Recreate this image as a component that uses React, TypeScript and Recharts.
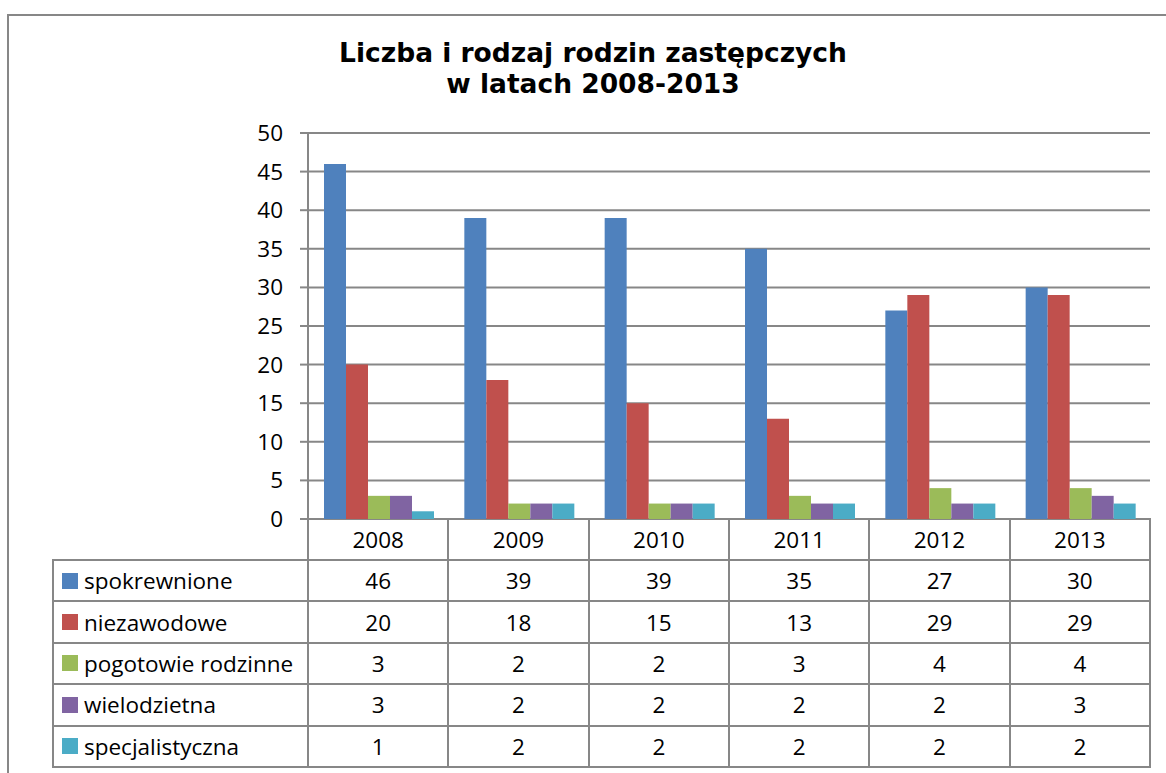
import { BarChart, Bar, XAxis, YAxis, CartesianGrid } from 'recharts';

const years = ['2008', '2009', '2010', '2011', '2012', '2013'];
const spokrewnione = [46, 39, 39, 35, 27, 30];
const niezawodowe = [20, 18, 15, 13, 29, 29];
const pogotowie = [3, 2, 2, 3, 4, 4];
const wielodzietna = [3, 2, 2, 2, 2, 3];
const specjalistyczna = [1, 2, 2, 2, 2, 2];
const yTicks = [0, 5, 10, 15, 20, 25, 30, 35, 40, 45, 50];

const series = [
  { key: 's1', name: 'spokrewnione', values: spokrewnione, color: '#4F81BD' },
  { key: 's2', name: 'niezawodowe', values: niezawodowe, color: '#C0504D' },
  { key: 's3', name: 'pogotowie rodzinne', values: pogotowie, color: '#9BBB59' },
  { key: 's4', name: 'wielodzietna', values: wielodzietna, color: '#8064A2' },
  { key: 's5', name: 'specjalistyczna', values: specjalistyczna, color: '#4BACC6' },
];

const data = years.map((year, i) => {
  const row: Record<string, string | number> = { year };
  series.forEach((s) => (row[s.key] = s.values[i]));
  return row;
});

// page geometry
const W = 1166;
const H = 773;
const PLOT_L = 308;
const PLOT_R = 1150;
const PLOT_T = 133;
const PLOT_B = 519;
const TABLE_L = 53;
const HEAD_B = 560;
const ROW_H = 41.4;
const GREY = '#878787';
const FONT = '"Open Sans", Lato, sans-serif';
const FONT_SIZE = 22.5;

const colW = (PLOT_R - PLOT_L) / years.length;

function Line({ x, y, w, h }: { x: number; y: number; w: number; h: number }) {
  return <div style={{ position: 'absolute', left: x, top: y, width: w, height: h, background: GREY }} />;
}

function DataTable() {
  const bottom = HEAD_B + ROW_H * series.length;
  const lines = [];
  for (let r = 0; r <= series.length; r++) {
    const y = HEAD_B + r * ROW_H;
    lines.push(<Line key={'h' + r} x={TABLE_L - 1} y={y - 1} w={PLOT_R - TABLE_L + 2} h={2} />);
  }
  lines.push(<Line key="vl" x={TABLE_L - 1} y={HEAD_B - 1} w={2} h={bottom - HEAD_B + 2} />);
  for (let c = 0; c <= years.length; c++) {
    const x = PLOT_L + c * colW;
    lines.push(<Line key={'v' + c} x={x - 1} y={PLOT_B - 1} w={2} h={bottom - PLOT_B + 2} />);
  }
  const cell = (x: number, y: number, w: number, h: number, content: any, key: string, left = false) => (
    <div
      key={key}
      style={{
        position: 'absolute',
        left: x,
        top: y,
        width: w,
        height: h,
        display: 'flex',
        alignItems: 'center',
        justifyContent: left ? 'flex-start' : 'center',
        fontFamily: FONT,
        fontSize: FONT_SIZE,
        color: '#000',
        whiteSpace: 'nowrap',
      }}
    >
      {content}
    </div>
  );
  const cells = [];
  years.forEach((y, c) => cells.push(cell(PLOT_L + c * colW, PLOT_B, colW, HEAD_B - PLOT_B, y, 'y' + c)));
  series.forEach((s, r) => {
    const top = HEAD_B + r * ROW_H;
    cells.push(
      cell(
        62,
        top,
        PLOT_L - 62,
        ROW_H,
        <>
          <span style={{ display: 'inline-block', width: 16, height: 16, background: s.color, marginRight: 6 }} />
          {s.name}
        </>,
        'l' + r,
        true
      )
    );
    s.values.forEach((v, c) => cells.push(cell(PLOT_L + c * colW, top, colW, ROW_H, v, `c${r}-${c}`)));
  });
  return (
    <>
      {lines}
      {cells}
    </>
  );
}

export default function App() {
  return (
    <div style={{ position: 'fixed', left: 0, top: 0, width: W, height: H, overflow: 'hidden', background: '#fff' }}>
      <div
        style={{
          position: 'absolute',
          left: 7,
          top: 14,
          width: 1200,
          height: 800,
          borderTop: `2px solid ${GREY}`,
          borderLeft: `2px solid ${GREY}`,
        }}
      />
      <div
        style={{
          position: 'absolute',
          left: 0,
          top: 37,
          width: 1186,
          textAlign: 'center',
          fontFamily: '"DejaVu Sans", Verdana, sans-serif',
          fontWeight: 'bold',
          fontSize: 26.5,
          lineHeight: '31px',
          color: '#000',
        }}
      >
        Liczba i rodzaj rodzin zastępczych
        <br />w latach 2008-2013
      </div>
      <div style={{ position: 'absolute', left: 0, top: 0 }}>
        <BarChart
          width={W}
          height={H}
          data={data}
          margin={{ top: PLOT_T, right: W - PLOT_R, bottom: H - PLOT_B, left: PLOT_L - 60 }}
          barCategoryGap={16}
          barGap={0}
        >
          <CartesianGrid vertical={false} stroke={GREY} strokeWidth={2} />
          <XAxis dataKey="year" hide />
          <YAxis
            width={60}
            domain={[0, 50]}
            ticks={yTicks}
            interval={0}
            axisLine={{ stroke: GREY, strokeWidth: 2 }}
            tickLine={{ stroke: GREY, strokeWidth: 2 }}
            tickSize={8}
            tickMargin={17}
            tick={{ fill: '#000', fontSize: FONT_SIZE, fontFamily: FONT }}
          />
          {series.map((s) => (
            <Bar key={s.key} dataKey={s.key} name={s.name} fill={s.color} isAnimationActive={false} />
          ))}
        </BarChart>
      </div>
      <DataTable />
    </div>
  );
}
